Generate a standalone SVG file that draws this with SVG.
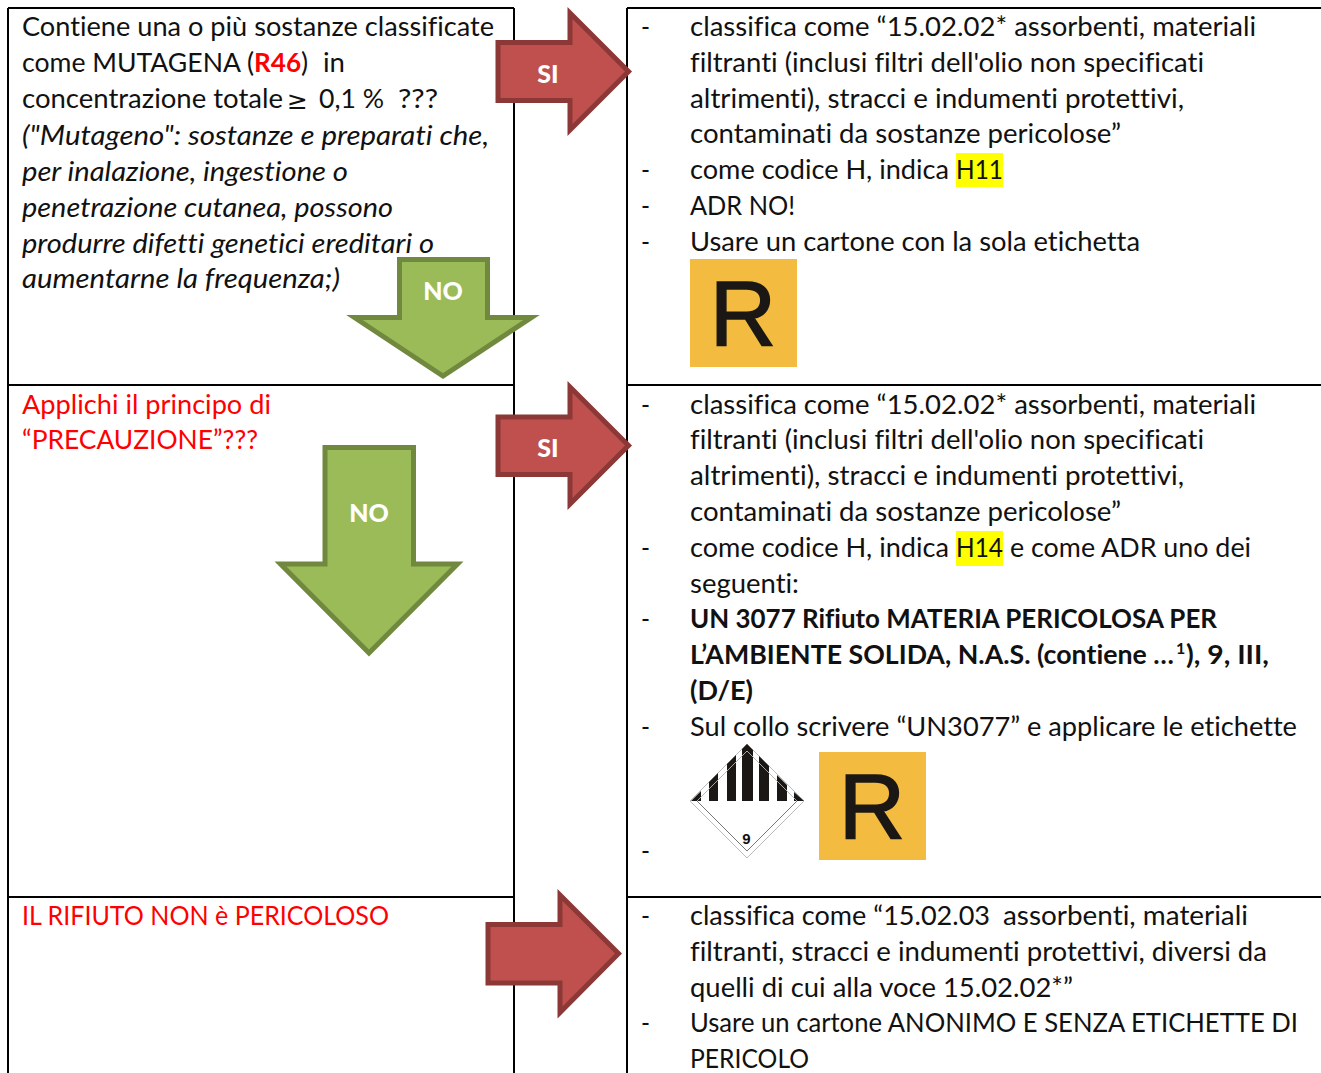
<svg xmlns="http://www.w3.org/2000/svg" width="1321" height="1073" viewBox="0 0 1321 1073">
<style>
text{font-family:Lato,"Open Sans","Liberation Sans",sans-serif;font-size:26.5px;fill:#111;font-variant-ligatures:none}
.i{font-style:italic}
.r{fill:#f00}
.b{font-weight:700}
.grid{stroke:#000;stroke-width:2;fill:none}
.ra{fill:#c0504d;stroke:#8c3836;stroke-width:5}
.ga{fill:#9bbb59;stroke:#71893f;stroke-width:5}
.al{fill:#fff;font-weight:900;font-size:25px;text-anchor:middle}
.ry{fill:#f3bb3f}
.rl{font-size:92px;fill:#1a1714;stroke:#1a1714;stroke-width:1.500;text-anchor:middle;font-family:"Liberation Sans",sans-serif}
.hl{fill:#ff0}
</style>
<rect width="1321" height="1073" fill="#fff"/>
<g id="grid" class="grid">
<path d="M8 8H514M627 8H1321M8 385H514M627 385H1321M8 897H514M627 897H1321M8 8V1073M514 8V1073M627 8V1073"/>
</g>
<g id="cell-1-text">
<text x="22" y="36" textLength="472" lengthAdjust="spacingAndGlyphs">Contiene una o più sostanze classificate</text>
<text x="22" y="72" textLength="232" lengthAdjust="spacingAndGlyphs">come MUTAGENA (</text>
<text x="254" y="72" textLength="47" lengthAdjust="spacingAndGlyphs" class="r b">R46</text>
<text x="301" y="72">)</text>
<text x="323" y="72" textLength="22" lengthAdjust="spacingAndGlyphs">in</text>
<text x="22" y="108" textLength="261" lengthAdjust="spacingAndGlyphs">concentrazione totale</text>
<text x="287" y="109" style="font-family:'DejaVu Sans',sans-serif;font-size:25px">≥</text>
<text x="319" y="108" textLength="65" lengthAdjust="spacingAndGlyphs">0,1 %</text>
<text x="398" y="108" textLength="40" lengthAdjust="spacingAndGlyphs">???</text>
<text x="22" y="145" textLength="467" lengthAdjust="spacingAndGlyphs" class="i">("Mutageno": sostanze e preparati che,</text>
<text x="22" y="181" textLength="326" lengthAdjust="spacingAndGlyphs" class="i">per inalazione, ingestione o</text>
<text x="22" y="217" textLength="371" lengthAdjust="spacingAndGlyphs" class="i">penetrazione cutanea, possono</text>
<text x="22" y="253" textLength="412" lengthAdjust="spacingAndGlyphs" class="i">produrre difetti genetici ereditari o</text>
<text x="22" y="288" textLength="318" lengthAdjust="spacingAndGlyphs" class="i">aumentarne la frequenza;)</text>
</g>
<g id="cell-2-text">
<text x="22" y="414" textLength="249" lengthAdjust="spacingAndGlyphs" class="r">Applichi il principo di</text>
<text x="22" y="449" textLength="236" lengthAdjust="spacingAndGlyphs" class="r">“PRECAUZIONE”???</text>
</g>
<g id="cell-3-text">
<text x="22" y="925" textLength="367" lengthAdjust="spacingAndGlyphs" class="r">IL RIFIUTO NON è PERICOLOSO</text>
</g>
<g id="result-1">
<text x="641" y="36" textLength="9" lengthAdjust="spacingAndGlyphs">-</text>
<text x="690" y="36" textLength="566" lengthAdjust="spacingAndGlyphs">classifica come “15.02.02* assorbenti, materiali</text>
<text x="690" y="72" textLength="514" lengthAdjust="spacingAndGlyphs">filtranti (inclusi filtri dell'olio non specificati</text>
<text x="690" y="108" textLength="494" lengthAdjust="spacingAndGlyphs">altrimenti), stracci e indumenti protettivi,</text>
<text x="690" y="143" textLength="431" lengthAdjust="spacingAndGlyphs">contaminati da sostanze pericolose”</text>
<text x="641" y="179" textLength="9" lengthAdjust="spacingAndGlyphs">-</text>
<text x="690" y="179" textLength="259" lengthAdjust="spacingAndGlyphs">come codice H, indica</text>
<rect class="hl" x="956" y="153" width="47" height="34"/>
<text x="956" y="179" textLength="47" lengthAdjust="spacingAndGlyphs">H11</text>
<text x="641" y="215" textLength="9" lengthAdjust="spacingAndGlyphs">-</text>
<text x="690" y="215" textLength="105" lengthAdjust="spacingAndGlyphs">ADR NO!</text>
<text x="641" y="251" textLength="9" lengthAdjust="spacingAndGlyphs">-</text>
<text x="690" y="251" textLength="450" lengthAdjust="spacingAndGlyphs">Usare un cartone con la sola etichetta</text>
<rect class="ry" x="690" y="259" width="107" height="108"/>
<text class="rl" x="743" y="346">R</text>
</g>
<g id="result-2">
<text x="641" y="414" textLength="9" lengthAdjust="spacingAndGlyphs">-</text>
<text x="690" y="414" textLength="566" lengthAdjust="spacingAndGlyphs">classifica come “15.02.02* assorbenti, materiali</text>
<text x="690" y="449" textLength="514" lengthAdjust="spacingAndGlyphs">filtranti (inclusi filtri dell'olio non specificati</text>
<text x="690" y="485" textLength="494" lengthAdjust="spacingAndGlyphs">altrimenti), stracci e indumenti protettivi,</text>
<text x="690" y="521" textLength="431" lengthAdjust="spacingAndGlyphs">contaminati da sostanze pericolose”</text>
<text x="641" y="557" textLength="9" lengthAdjust="spacingAndGlyphs">-</text>
<text x="690" y="557" textLength="259" lengthAdjust="spacingAndGlyphs">come codice H, indica</text>
<rect class="hl" x="956" y="531" width="47" height="35"/>
<text x="956" y="557" textLength="47" lengthAdjust="spacingAndGlyphs">H14</text>
<text x="1010" y="557" textLength="241" lengthAdjust="spacingAndGlyphs">e come ADR uno dei</text>
<text x="690" y="593" textLength="109" lengthAdjust="spacingAndGlyphs">seguenti:</text>
<text x="641" y="628" textLength="9" lengthAdjust="spacingAndGlyphs">-</text>
<text x="690" y="628" textLength="527" lengthAdjust="spacingAndGlyphs" class="b">UN 3077 Rifiuto MATERIA PERICOLOSA PER</text>
<text x="690" y="664" textLength="484" lengthAdjust="spacingAndGlyphs" class="b">L’AMBIENTE SOLIDA, N.A.S. (contiene …</text>
<text x="1176" y="654" class="b" style="font-size:16px">1</text>
<text x="1186" y="664" textLength="83" lengthAdjust="spacingAndGlyphs" class="b">), 9, III,</text>
<text x="690" y="700" textLength="63" lengthAdjust="spacingAndGlyphs" class="b">(D/E)</text>
<text x="641" y="736" textLength="9" lengthAdjust="spacingAndGlyphs">-</text>
<text x="690" y="736" textLength="607" lengthAdjust="spacingAndGlyphs">Sul collo scrivere “UN3077” e applicare le etichette</text>
<g id="label-9">
<path d="M747 744L804 801L747 858L690 801Z" fill="#fff" stroke="#bbb" stroke-width="1"/>
<path d="M747 751L797 801L747 851L697 801Z" fill="none" stroke="#777" stroke-width="1"/>
<path d="M691 801L701 791V801ZM709 801V782L718 773V801ZM727 801V764L736 755V801ZM742 801V749L747 744L753 750V801ZM759 801V756L769 766V801ZM777 801V775L787 785V801ZM794 792L804 801H794Z" fill="#1a1714"/>
<path d="M697 801L747 751L797 801" fill="none" stroke="#ccc" stroke-width="0.800"/>
<text x="746.500" y="844" text-anchor="middle" style="font-size:15px;font-weight:700;font-family:'Liberation Sans',sans-serif">9</text>
</g>
<rect class="ry" x="819" y="752" width="107" height="108"/>
<text class="rl" x="872" y="839">R</text>
<text x="641" y="860" textLength="9" lengthAdjust="spacingAndGlyphs">-</text>
</g>
<g id="result-3">
<text x="641" y="925" textLength="9" lengthAdjust="spacingAndGlyphs">-</text>
<text x="690" y="925" textLength="300" lengthAdjust="spacingAndGlyphs">classifica come “15.02.03</text>
<text x="1003" y="925" textLength="245" lengthAdjust="spacingAndGlyphs">assorbenti, materiali</text>
<text x="690" y="961" textLength="577" lengthAdjust="spacingAndGlyphs">filtranti, stracci e indumenti protettivi, diversi da</text>
<text x="690" y="997" textLength="383" lengthAdjust="spacingAndGlyphs">quelli di cui alla voce 15.02.02*”</text>
<text x="641" y="1032" textLength="9" lengthAdjust="spacingAndGlyphs">-</text>
<text x="690" y="1032" textLength="608" lengthAdjust="spacingAndGlyphs">Usare un cartone ANONIMO E SENZA ETICHETTE DI</text>
<text x="690" y="1068" textLength="119" lengthAdjust="spacingAndGlyphs">PERICOLO</text>
</g>
<g id="arrows">
<g id="si-1"><path class="ra" d="M498 42.500H570V13L628.500 71.500L570 130V100.500H498Z"/><text class="al" x="548" y="83">SI</text></g>
<g id="no-1"><path class="ga" d="M399.500 259.500H487.500V317.500H531.500L443 376L354.500 317.500H399.500Z"/><text class="al" x="443" y="300">NO</text></g>
<g id="si-2"><path class="ra" d="M498 417H570V387L628.500 445.500L570 504V474.500H498Z"/><text class="al" x="548" y="457">SI</text></g>
<g id="no-2"><path class="ga" d="M325 447.500H413.500V564H457.500L369 653L280.500 564H325Z"/><text class="al" x="369" y="522">NO</text></g>
<g id="arrow-3"><path class="ra" d="M488 924.500H560V895L618.500 953.500L560 1012.500V983H488Z"/></g>
</g>
</svg>
